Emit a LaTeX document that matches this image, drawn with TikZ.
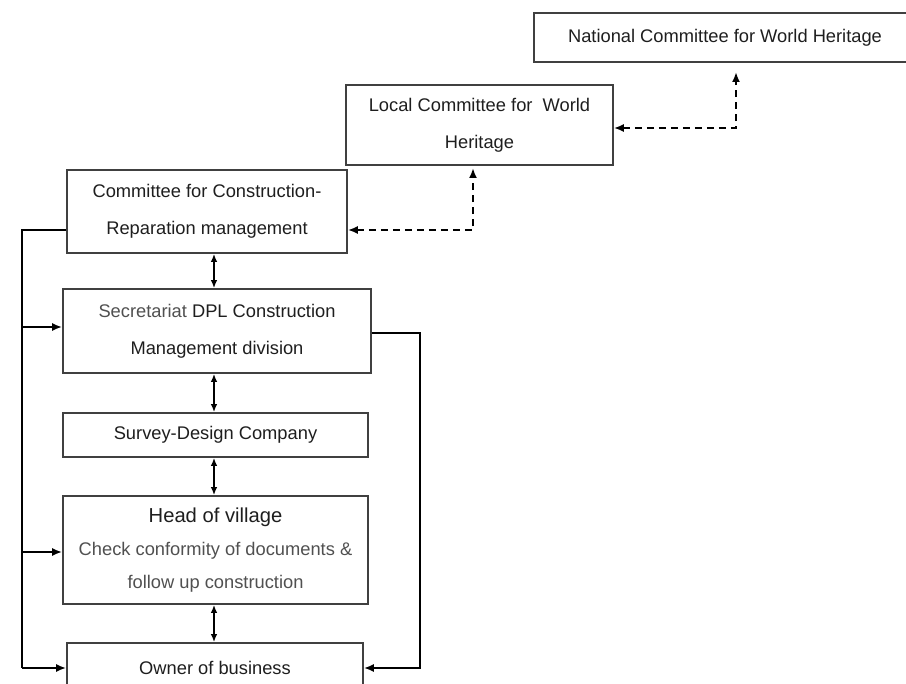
\documentclass[tikz,border=0pt]{standalone}
\usepackage{fontspec}
\setmainfont{Liberation Sans}
\usepackage{xcolor}
\usepackage{tikz}
\usetikzlibrary{positioning,arrows.meta}

\definecolor{txtdark}{HTML}{1E1E1E}
\definecolor{txtgray}{HTML}{505050}
\definecolor{boxline}{HTML}{404040}

\begin{document}
\begin{tikzpicture}[x=1pt, y=-1pt,
  unit/.style={draw=boxline, line width=1.6pt, rectangle, inner sep=0pt, align=center, text=txtdark, font=\fontsize{18.3}{37}\selectfont},
  link/.style={line width=2.6pt, black},
  arr/.style={link, -{Latex[length=10pt,width=8pt]}},
  dasharrow/.style={line width=2.6pt, black, dash pattern=on 7pt off 5pt, {Latex[length=10pt,width=8pt]}-{Latex[length=10pt,width=8pt]}},
  dbl/.style={line width=2pt, black, {Latex[length=8pt,width=6.5pt]}-{Latex[length=8pt,width=6.5pt]}},
]
  \useasboundingbox (0,0) rectangle (906,684);

  % Committees
  \node[unit, minimum width=382pt, minimum height=49pt] (national) at (725,37.5) {National Committee for World Heritage};
  \node[unit, minimum width=267pt, minimum height=80pt] (local) at (479.5,125) {Local Committee for\ \ World\\Heritage};
  \node[unit, minimum width=280pt, minimum height=83pt] (committee) at (207,211.5) {Committee for Construction-\\Reparation management};

  % Chain
  \node[unit, minimum width=308pt, minimum height=84pt] (secretariat) at (217,331) {{\color{txtgray}Secretariat} DPL Construction\\Management division};
  \node[unit, minimum width=305pt, minimum height=44pt] (survey) at (215.5,435) {Survey-Design Company};
  \node[unit, minimum width=305pt, minimum height=108pt, font=\fontsize{18.3}{33}\selectfont] (head) at (215.5,550) {{\fontsize{20.2}{33}\selectfont Head of village}\\{\color{txtgray}Check conformity of documents \&}\\{\color{txtgray}follow up construction}};
  \node[unit, minimum width=296pt, minimum height=50pt] (owner) at (215,668) {Owner of business};

  % Dashed links
  \coordinate (natin) at (736,72);
  \coordinate (locin) at (473,168);
  \draw[dasharrow] ([yshift=-3pt]local.east) -| (natin);
  \draw[dasharrow] ([yshift=-18.5pt]committee.east) -| (locin);

  % Vertical chain
  \coordinate (spine) at (214,0);
  \draw[dbl] (committee.south -| spine) -- (secretariat.north -| spine);
  \draw[dbl] (secretariat.south -| spine) -- (survey.north -| spine);
  \draw[dbl] (survey.south -| spine) -- (head.north -| spine);
  \draw[dbl] (head.south -| spine) -- (owner.north -| spine);

  % Left bus
  \coordinate (bustop) at (22,230);
  \draw[link] ([yshift=-18.5pt]committee.west) -- (bustop) -- (owner.west -| bustop);
  \draw[arr] (owner.west -| bustop) -- (owner.west);
  \draw[arr] ([yshift=4pt]secretariat.west -| bustop) -- ([yshift=4pt]secretariat.west);
  \draw[arr] ([yshift=-2pt]head.west -| bustop) -- ([yshift=-2pt]head.west);

  % Right bus
  \coordinate (busright) at (420,0);
  \draw[arr] ([yshift=-2pt]secretariat.east) -| (owner.east -| busright) -- (owner.east);
\end{tikzpicture}
\end{document}
